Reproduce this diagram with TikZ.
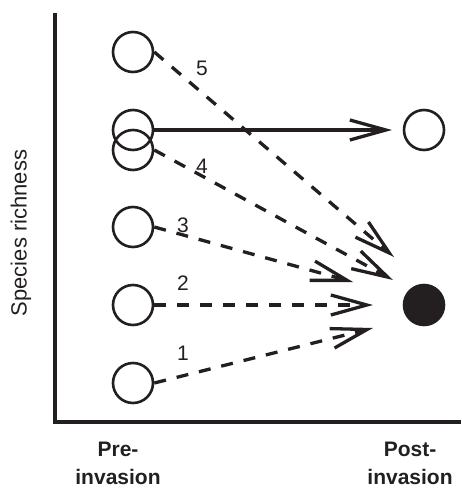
\documentclass[tikz,border=0pt]{standalone}
\usepackage{fontspec}
\setmainfont{Liberation Sans}
\usetikzlibrary{arrows.meta}
\definecolor{ink}{HTML}{231F20}
\begin{document}
\begin{tikzpicture}[x=1pt,y=-1pt,
  sp/.style={circle,draw=ink,line width=2.6pt,minimum size=40pt,inner sep=0pt},
  fsp/.style={sp,fill=ink},
  conn/.style={draw=ink,line width=3.3pt,-{Straight Barb[length=36pt,width=20pt,line width=3.3pt]}},
  dconn/.style={conn,dash pattern=on 12pt off 11pt},
  num/.style={font=\fontsize{21}{21}\selectfont,text=ink,inner sep=0pt},
  lab/.style={font=\bfseries\fontsize{21}{28}\selectfont,text=ink,align=center,inner sep=0pt}]
\useasboundingbox (0,0) rectangle (461,489);
% axes
\coordinate (ytop) at (55,13);
\coordinate (orig) at (55,422);
\coordinate (xend) at (461,422);
\draw[ink,line width=3.3pt] (ytop) -- (orig) -- (xend);
% circles
\node[sp] (c5) at (133,52) {};
\node[sp] (cs) at (133,130) {};
\node[sp] (c4) at (133,150) {};
\node[sp] (c3) at (133,227) {};
\node[sp] (c2) at (133,305) {};
\node[sp] (c1) at (133,383) {};
\node[sp] (ro) at (424,130) {};
\node[fsp] (rf) at (424,305) {};
% arrow tips
\coordinate (t5) at (394,257);
\coordinate (t4) at (393,280);
\coordinate (t3) at (353,282);
\coordinate (t2) at (373,305);
\coordinate (t1) at (373,328);
\coordinate (ts) at (392,130);
\draw[conn] (cs.east) -- (ts);
\draw[dconn] (c5.east) -- (t5);
\draw[dconn] (c4.east) -- (t4);
\draw[dconn] (c3.east) -- (t3);
\draw[dconn] (c2.east) -- (t2);
\draw[dconn] (c1.east) -- (t1);
% numbers
\node[num] (n5) at (202,68) {5};
\node[num] (n4) at (202,166) {4};
\node[num] (n3) at (183,225) {3};
\node[num] (n2) at (183,283) {2};
\node[num] (n1) at (183,353) {1};
% labels
\node[rotate=90,font=\fontsize{22}{22}\selectfont,text=ink] (yl) at (21,233) {Species richness};
\node[lab] (pre) at (118,463) {Pre-\\invasion};
\node[lab] (post) at (410,463) {Post-\\invasion};
\end{tikzpicture}
\end{document}
